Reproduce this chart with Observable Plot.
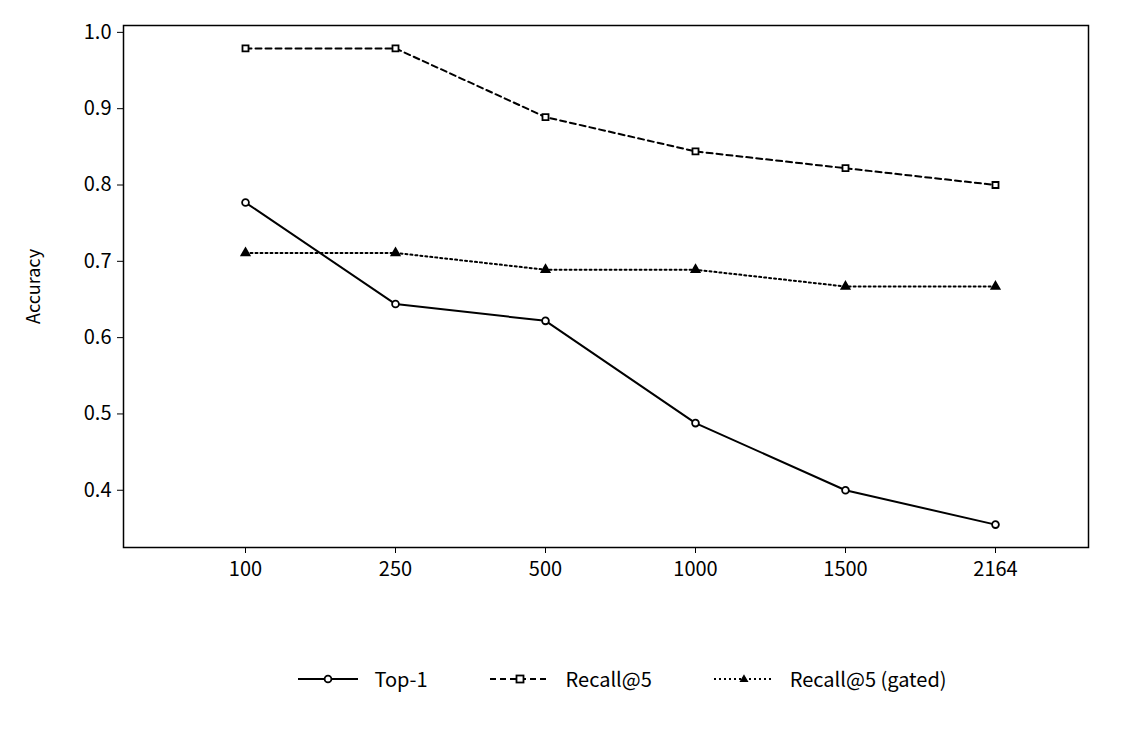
<!DOCTYPE html>
<html><head><meta charset="utf-8">
<script src="https://cdn.jsdelivr.net/npm/d3@7"></script>
<script src="https://cdn.jsdelivr.net/npm/@observablehq/plot@0.6"></script>
<style>
body{margin:0;background:#fff;font-family:"Noto Sans CJK KR","Noto Sans",sans-serif;}
#legend{display:flex;justify-content:center;gap:62px;font-size:20px;margin-top:44px;margin-left:110px;align-items:center}
#legend span{display:flex;align-items:center;gap:16px}
</style></head><body>
<div id="chart"></div>
<div id="legend"></div>
<script>
const categories = ["100","250","500","1000","1500","2164"];
const top1 = [0.777,0.644,0.622,0.488,0.400,0.355];
const recall5 = [0.979,0.979,0.889,0.844,0.822,0.800];
const recall5Gated = [0.711,0.711,0.689,0.689,0.667,0.667];
const series = [
  {name:"Top-1", values:top1, dash:null, symbol:"circle", fill:"white"},
  {name:"Recall@5", values:recall5, dash:"6,4", symbol:"square", fill:"white"},
  {name:"Recall@5 (gated)", values:recall5Gated, dash:"2,3", symbol:"triangle", fill:"black"}
];
const marks = [Plot.frame({stroke:"black", strokeWidth:1.5})];
for (const s of series) {
  const data = categories.map((c,i)=>({x:c,y:s.values[i]}));
  marks.push(Plot.line(data,{x:"x",y:"y",stroke:"black",strokeWidth:2,strokeDasharray:s.dash}));
  marks.push(Plot.dot(data,{x:"x",y:"y",symbol:s.symbol,r:s.symbol==="triangle"?3:3.4,stroke:"black",strokeWidth:1.8,fill:s.fill}));
}
const chart = Plot.plot({
  width:1135, height:620,
  marginLeft:123, marginRight:47, marginTop:25, marginBottom:73,
  style:{fontSize:"20px", fontFamily:"'Noto Sans CJK KR','Noto Sans',sans-serif", color:"black"},
  x:{type:"point", domain:categories, range:[169,1070], label:null, tickSize:6, tickPadding:8},
  y:{domain:[0.325,1.009], ticks:[0.4,0.5,0.6,0.7,0.8,0.9,1.0], tickFormat:d3.format(".1f"), tickSize:6, tickPadding:6,
     label:"Accuracy", labelAnchor:"center", labelArrow:"none", labelOffset:96},
  marks
});
chart.querySelectorAll("[aria-label='y-axis label'] text").forEach(t=>t.style.fontSize="18px");
document.getElementById("chart").appendChild(chart);
const leg = document.getElementById("legend");
const sym = {circle:'<circle cx="30" cy="10" r="3.4" fill="white" stroke="black" stroke-width="1.8"/>',
  square:'<rect x="26.5" y="6.5" width="7" height="7" fill="white" stroke="black" stroke-width="1.8"/>',
  triangle:'<path d="M30,6.5 L33.5,12.5 L26.5,12.5 Z" fill="black" stroke="black" stroke-width="1.2"/>'};
for (const s of series) {
  leg.innerHTML += `<span><svg width="60" height="20"><line x1="0" x2="60" y1="10" y2="10" stroke="black" stroke-width="2" ${s.dash?`stroke-dasharray="${s.dash}"`:""}/>${sym[s.symbol]}</svg>${s.name}</span>`;
}
</script></body></html>
